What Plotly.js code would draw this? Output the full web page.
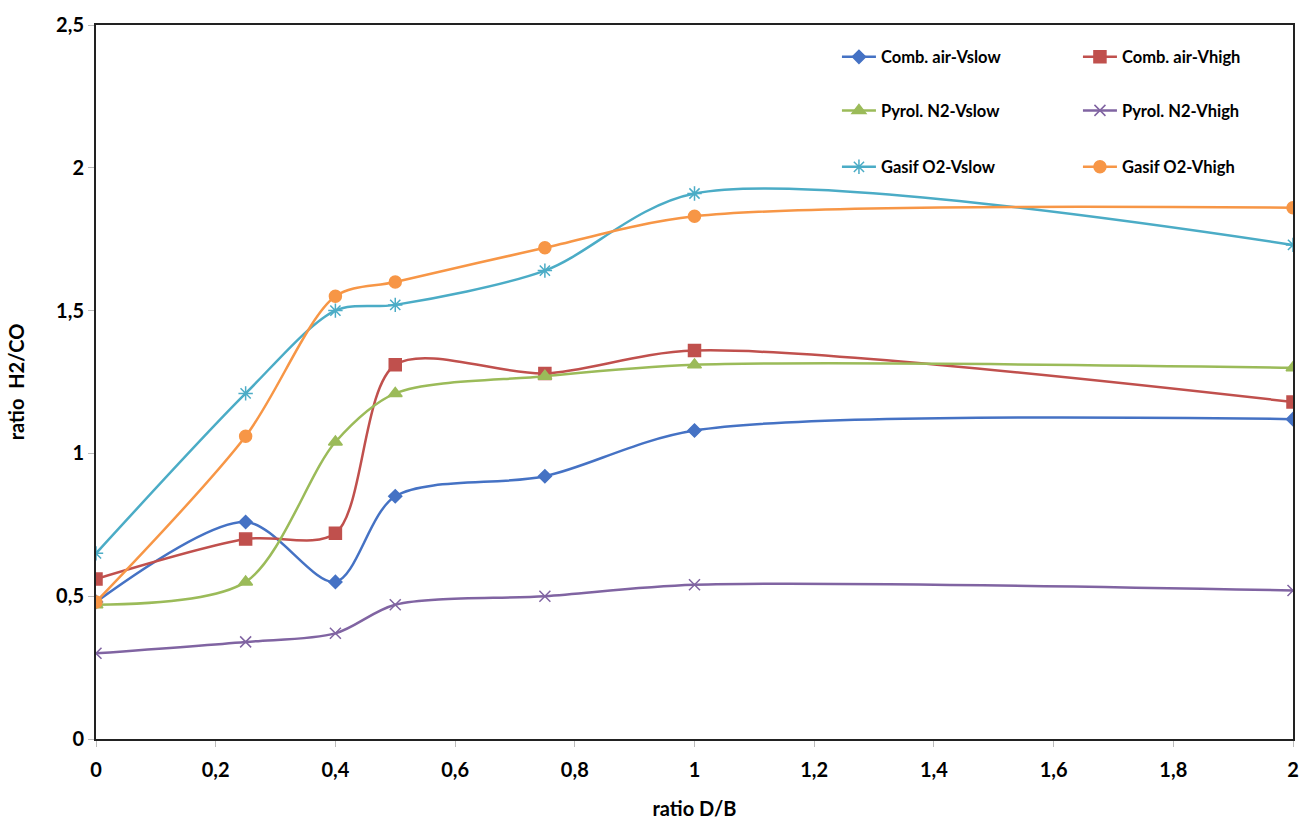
<!DOCTYPE html>
<html>
<head>
<meta charset="utf-8">
<script src="https://cdn.plot.ly/plotly-3.0.1.min.js"></script>
<style>html,body{margin:0;padding:0;background:#fff;}#chart{width:1305px;height:825px;}</style>
</head>
<body>
<div id="chart"></div>
<script>
var ratioDB = [0, 0.25, 0.4, 0.5, 0.75, 1, 2];
var combAirVslow = [0.48, 0.76, 0.55, 0.85, 0.92, 1.08, 1.12];
var combAirVhigh = [0.56, 0.70, 0.72, 1.31, 1.28, 1.36, 1.18];
var pyrolN2Vslow = [0.47, 0.55, 1.04, 1.21, 1.27, 1.31, 1.30];
var pyrolN2Vhigh = [0.30, 0.34, 0.37, 0.47, 0.50, 0.54, 0.52];
var gasifO2Vslow = [0.65, 1.21, 1.50, 1.52, 1.64, 1.91, 1.73];
var gasifO2Vhigh = [0.48, 1.06, 1.55, 1.60, 1.72, 1.83, 1.86];

var seriesNames = ['Comb. air-Vslow','Comb. air-Vhigh','Pyrol. N2-Vslow','Pyrol. N2-Vhigh','Gasif O2-Vslow','Gasif O2-Vhigh'];
var xTickVals = [0,0.2,0.4,0.6,0.8,1,1.2,1.4,1.6,1.8,2];
var xTickText = ['0','0,2','0,4','0,6','0,8','1','1,2','1,4','1,6','1,8','2'];
var yTickVals = [0,0.5,1,1.5,2,2.5];
var yTickText = ['0','0,5','1','1,5','2','2,5'];

var seriesData = [combAirVslow, combAirVhigh, pyrolN2Vslow, pyrolN2Vhigh, gasifO2Vslow, gasifO2Vhigh];
var colors = ['#4572C4','#C0504D','#9BBB59','#8064A2','#4BACC6','#F79646'];
var symbols = ['diamond','square','triangle-up','x-thin-open','asterisk-open','circle'];
var sizes = [10,12,12,11,12,12];
var legends = ['legend','legend','legend2','legend2','legend3','legend3'];

var traces = seriesData.map(function(d,i){
  return {
    x: ratioDB, y: d, name: seriesNames[i], type:'scatter', mode:'lines+markers',
    line:{color:colors[i], width:2.5, shape:'spline', smoothing:0.85},
    marker:{symbol:symbols[i], size:sizes[i], color:colors[i], line:{color:colors[i], width:1.5}},
    legend: legends[i]
  };
});

function leg(y){
  return {x:0.619, y:y, xanchor:'left', yanchor:'middle', orientation:'h', entrywidth:192,
    bgcolor:'rgba(0,0,0,0)', font:{family:'Lato, sans-serif', size:16.5, weight:700, color:'#000'},
    itemwidth:34, traceorder:'normal'};
}

var layout = {
  width:1305, height:825,
  margin:{l:96, r:12, t:25, b:86, autoexpand:false},
  paper_bgcolor:'#fff', plot_bgcolor:'#fff',
  showlegend:true,
  legend: leg(0.955), legend2: leg(0.880), legend3: leg(0.801),
  xaxis:{range:[0,2], tickvals:xTickVals, ticktext:xTickText, showgrid:false, zeroline:false,
    showline:true, linecolor:'#222', linewidth:2, mirror:true,
    ticks:'outside', ticklen:6, tickcolor:'#bbb', tickwidth:1, ticklabelstandoff:6,
    tickfont:{family:'Lato, sans-serif', size:20, weight:700, color:'#000'},
    title:{text:'ratio D/B', font:{family:'Lato, sans-serif', size:20, weight:700, color:'#000'}, standoff:22}},
  yaxis:{range:[0,2.5], tickvals:yTickVals, ticktext:yTickText, showgrid:false, zeroline:false,
    showline:true, linecolor:'#222', linewidth:2, mirror:true,
    ticks:'outside', ticklen:6, tickcolor:'#bbb', tickwidth:1,
    tickfont:{family:'Lato, sans-serif', size:20, weight:700, color:'#000'},
    title:{text:'ratio  H2/CO', font:{family:'Lato, sans-serif', size:20, weight:700, color:'#000'}, standoff:26}}
};

Plotly.newPlot('chart', traces, layout, {displayModeBar:false});
</script>
</body>
</html>
